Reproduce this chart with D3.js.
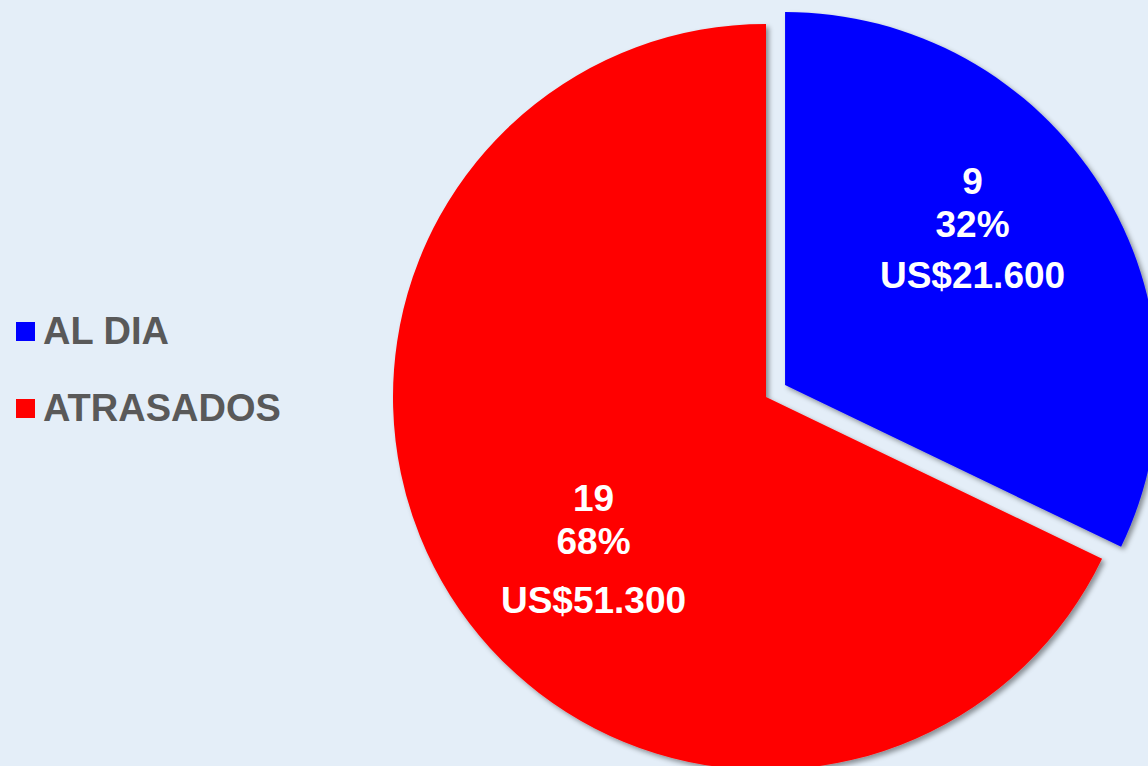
<!DOCTYPE html>
<html>
<head>
<meta charset="utf-8">
<script src="https://cdn.jsdelivr.net/npm/d3@7"></script>
<style>
  html, body { margin: 0; padding: 0; background: #E4EEF8; }
  svg { display: block; }
</style>
</head>
<body>
<svg id="chart" width="1148" height="766"></svg>
<script>
// ---- data ----
const categories = ["AL DIA", "ATRASADOS"];
const counts = [9, 19];
const percents = ["32%", "68%"];
const amounts = ["US$21.600", "US$51.300"];
const colors = ["#0000FF", "#FF0000"];
const explode = [22.5, 0];

// ---- layout ----
const W = 1148, H = 766;
const cx = 766, cy = 397, R = 373;
const svg = d3.select("#chart");

const defs = svg.append("defs");
const f = defs.append("filter").attr("id", "shadow")
  .attr("x", "-10%").attr("y", "-10%").attr("width", "130%").attr("height", "130%");
f.append("feDropShadow").attr("dx", 3).attr("dy", 3).attr("stdDeviation", 2.5)
  .attr("flood-color", "#000").attr("flood-opacity", 0.4);

const pie = d3.pie().sort(null).value(d => d)
  .startAngle(0).endAngle(2 * Math.PI);
const arcs = pie(counts);
const arc = d3.arc().innerRadius(0).outerRadius(R);
const labelArc = d3.arc().innerRadius(R * 0.6).outerRadius(R * 0.6);
// label fine adjustments (px) and line gaps
const labelShift = [[-2, -34], [17, 33]];
const lineGaps = [[0, 43, 94], [0, 43, 102]];

const g = svg.append("g").attr("transform", `translate(${cx},${cy})`);

const slices = g.selectAll("g.slice").data(arcs).join("g")
  .attr("class", "slice")
  .attr("transform", (d, i) => {
    const a = (d.startAngle + d.endAngle) / 2;
    return `translate(${Math.sin(a) * explode[i]},${-Math.cos(a) * explode[i]})`;
  });

slices.append("path")
  .attr("d", arc)
  .attr("fill", (d, i) => colors[i])
  .attr("filter", "url(#shadow)");

slices.each(function (d, i) {
  const [lx, ly] = labelArc.centroid(d);
  const x = lx + labelShift[i][0];
  const y = ly + labelShift[i][1];
  const lines = [String(counts[i]), percents[i], amounts[i]];
  const tg = d3.select(this).append("g")
    .attr("transform", `translate(${x},${y - 38})`);
  tg.selectAll("text").data(lines).join("text")
    .attr("x", 0)
    .attr("y", (t, k) => lineGaps[i][k])
    .attr("text-anchor", "middle")
    .attr("font-family", "'Liberation Sans', Arial, sans-serif")
    .attr("font-weight", "bold")
    .attr("font-size", 37)
    .attr("fill", "#FFFFFF")
    .text(t => t);
});

// ---- legend ----
const legend = svg.append("g");
const legY = [344, 421];
categories.forEach((c, i) => {
  legend.append("rect")
    .attr("x", 16).attr("y", legY[i] - 22).attr("width", 19).attr("height", 19)
    .attr("fill", colors[i]);
  legend.append("text")
    .attr("x", 43).attr("y", legY[i])
    .attr("font-family", "'Liberation Sans', Arial, sans-serif")
    .attr("font-weight", "bold")
    .attr("font-size", 38)
    .attr("fill", "#595959")
    .text(c);
});
</script>
</body>
</html>
